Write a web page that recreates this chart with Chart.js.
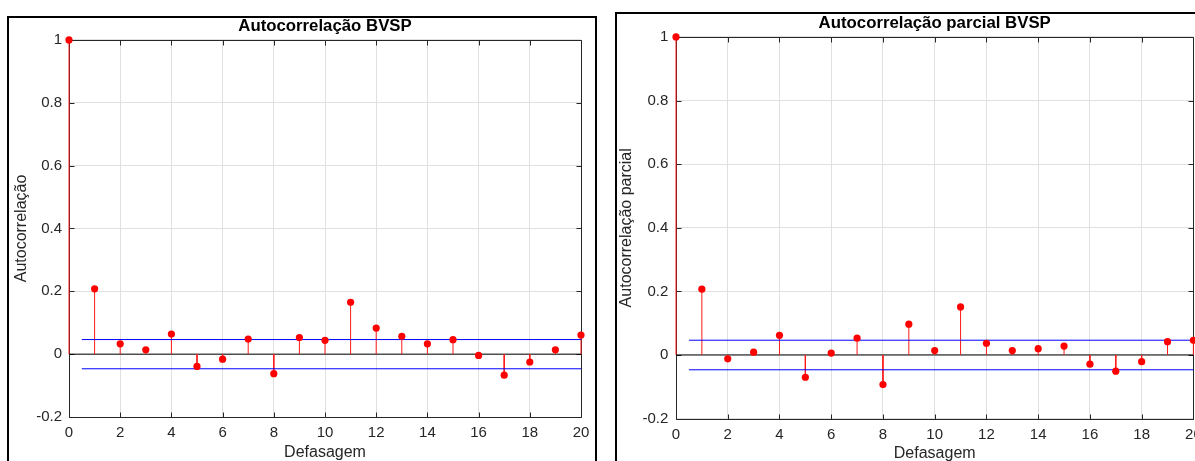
<!DOCTYPE html>
<html>
<head>
<meta charset="utf-8">
<script src="https://cdn.jsdelivr.net/npm/chart.js@4.4.1/dist/chart.umd.min.js"></script>
<style>
html, body { margin:0; padding:0; overflow:hidden; background:#fff; width:1195px; height:461px; }
canvas { position:absolute; top:0; }
#acfChart { left:0; }
#pacfChart { left:600px; }
.frame { position:absolute; border:2px solid #000; box-sizing:border-box; pointer-events:none; }
</style>
</head>
<body>
<canvas id="acfChart" width="600" height="480" style="width:600px;height:480px"></canvas>
<canvas id="pacfChart" width="640" height="480" style="width:640px;height:480px"></canvas>
<div class="frame" style="left:7px;top:16px;width:590px;height:500px"></div>
<div class="frame" style="left:615px;top:12px;width:640px;height:500px"></div>
<script>
// ---- data ----
const lags = [0, 1, 2, 3, 4, 5, 6, 7, 8, 9, 10, 11, 12, 13, 14, 15, 16, 17, 18, 19, 20];
const acfValues = [1, 0.208, 0.033, 0.014, 0.064, -0.039, -0.016, 0.048, -0.062, 0.053, 0.044,
                   0.165, 0.083, 0.057, 0.033, 0.046, -0.004, -0.067, -0.025, 0.014, 0.061];
const pacfValues = [1, 0.207, -0.012, 0.009, 0.062, -0.070, 0.006, 0.053, -0.093, 0.097, 0.014,
                    0.151, 0.037, 0.014, 0.020, 0.028, -0.029, -0.051, -0.021, 0.042, 0.046];
const acfBound = 0.0465;
const pacfBound = 0.0465;
const boundLags = [0.5, 20];
const xTickValues = [0, 2, 4, 6, 8, 10, 12, 14, 16, 18, 20];
const yTickValues = [-0.2, 0, 0.2, 0.4, 0.6, 0.8, 1];
const acfTitle = 'Autocorrelação BVSP';
const pacfTitle = 'Autocorrelação parcial BVSP';
const acfYLabel = 'Autocorrelação';
const pacfYLabel = 'Autocorrelação parcial';
const xLabel = 'Defasagem';

const FONT = "'Liberation Sans', Arial, Helvetica, sans-serif";
const AXIS_COLOR = '#262626';

const matlabAxes = {
  id: 'matlabAxes',
  beforeDatasetsDraw(chart) {
    const { ctx, chartArea: a, scales: { x, y } } = chart;
    const snap = v => Math.round(v) + 0.5;
    const L = snap(a.left), R = snap(a.right), T = snap(a.top), B = snap(a.bottom);
    const tl = 5;
    ctx.save();
    ctx.strokeStyle = AXIS_COLOR;
    ctx.lineWidth = 1;
    ctx.beginPath();
    ctx.rect(L, T, R - L, B - T);
    xTickValues.forEach(v => {
      const px = snap(x.getPixelForValue(v));
      ctx.moveTo(px, B); ctx.lineTo(px, B - tl);
      ctx.moveTo(px, T); ctx.lineTo(px, T + tl);
    });
    yTickValues.forEach(v => {
      const py = snap(y.getPixelForValue(v));
      ctx.moveTo(L, py); ctx.lineTo(L + tl, py);
      ctx.moveTo(R, py); ctx.lineTo(R - tl, py);
    });
    ctx.stroke();
    ctx.restore();
  }
};

function buildChart(id, values, bound, o) {
  const stems = [];
  lags.forEach((l, i) => { stems.push({ x: l, y: 0 }, { x: l, y: values[i] }, { x: l, y: null }); });
  const points = lags.map((l, i) => ({ x: l, y: values[i] }));
  const zero = [{ x: lags[0], y: 0 }, { x: lags[lags.length - 1], y: 0 }];
  const upper = boundLags.map(l => ({ x: l, y: bound }));
  const lower = boundLags.map(l => ({ x: l, y: -bound }));
  const lineDs = (data, color, order) => ({
    data, showLine: true, borderColor: color, borderWidth: 1, pointRadius: 0,
    spanGaps: false, order, clip: false
  });
  return new Chart(document.getElementById(id), {
    type: 'scatter',
    data: {
      datasets: [
        lineDs(zero, '#000000', 5),
        lineDs(stems, '#ff1a1a', 4),
        lineDs(upper, '#0000ff', 3),
        lineDs(lower, '#0000ff', 3),
        { data: points, pointRadius: 3.6, pointBackgroundColor: '#ff0000', pointBorderColor: '#ff0000',
          pointBorderWidth: 0, showLine: false, order: 1, clip: false }
      ]
    },
    options: {
      responsive: false, animation: false, devicePixelRatio: 1,
      layout: { padding: { left: 0, top: 0, right: o.padRight, bottom: 0 } },
      plugins: {
        legend: { display: false }, tooltip: { enabled: false },
        title: {
          display: true, text: o.title, fullSize: false, color: '#000',
          font: { family: FONT, size: 16.8, weight: 'bold', lineHeight: 1.2 },
          padding: { top: o.titleTop, bottom: o.titleBottom }
        }
      },
      scales: {
        x: {
          type: 'linear', min: 0, max: 20,
          afterBuildTicks(s) { s.ticks = xTickValues.map(v => ({ value: v })); },
          afterFit(s) { s.height = o.xAxisH; },
          grid: { color: '#e0e0e0', drawTicks: false },
          border: { display: false },
          ticks: { padding: o.xTickPad, color: AXIS_COLOR, font: { family: FONT, size: 15, lineHeight: 1.2 },
                   maxRotation: 0, autoSkip: false, callback: v => String(v) },
          title: { display: true, text: xLabel, color: AXIS_COLOR,
                   font: { family: FONT, size: 16, lineHeight: 1.2 }, padding: { top: 0, bottom: o.xTitleBottom } }
        },
        y: {
          type: 'linear', min: -0.2, max: 1,
          afterBuildTicks(s) { s.ticks = yTickValues.map(v => ({ value: v })); },
          afterFit(s) { s.width = o.yAxisW; },
          grid: { color: '#e0e0e0', drawTicks: false },
          border: { display: false },
          ticks: { padding: o.yTickPad, color: AXIS_COLOR, font: { family: FONT, size: 15, lineHeight: 1.2 },
                   autoSkip: false, callback: v => String(v) },
          title: { display: true, text: o.yLabel, color: AXIS_COLOR,
                   font: { family: FONT, size: 16, lineHeight: 1.2 }, padding: { top: o.yTitlePad, bottom: 0 } }
        }
      }
    },
    plugins: [matlabAxes]
  });
}

buildChart('acfChart', acfValues, acfBound, {
  title: acfTitle, yLabel: acfYLabel,
  padRight: 19, titleTop: 16.4, titleBottom: 3.4,
  xAxisH: 63, xTickPad: 6.8, xTitleBottom: 17.7,
  yAxisW: 69, yTickPad: 7, yTitlePad: 12.4
});
buildChart('pacfChart', pacfValues, pacfBound, {
  title: pacfTitle, yLabel: pacfYLabel,
  padRight: 46.6, titleTop: 13.7, titleBottom: 3.1,
  xAxisH: 61.4, xTickPad: 7.4, xTitleBottom: 16.4,
  yAxisW: 76, yTickPad: 7.7, yTitlePad: 17.1
});
</script>
</body>
</html>
